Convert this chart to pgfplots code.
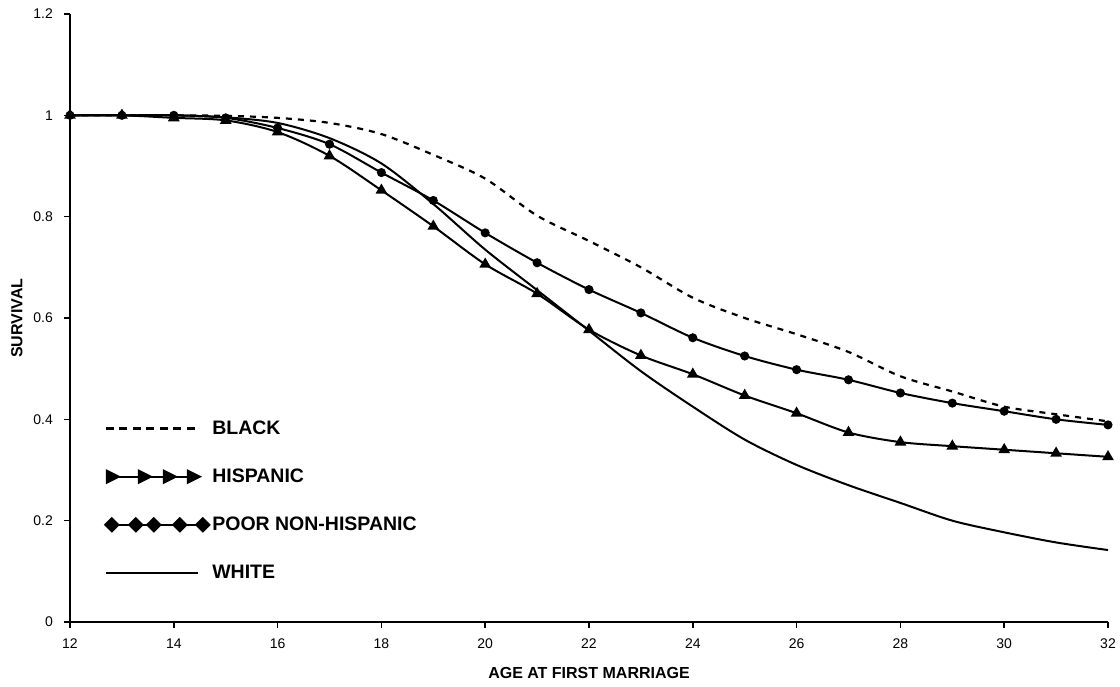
\documentclass[border=0pt]{standalone}
\usepackage{fontspec}
\setmainfont{Liberation Sans}
\usepackage{pgfplots}
\pgfplotsset{compat=1.18}
\newcommand{\tkfont}{\fontsize{14}{16}\selectfont}
\begin{document}
\begin{tikzpicture}
\useasboundingbox (-70pt,-65pt) rectangle (1050pt,622pt);
\begin{axis}[
  at={(0pt,0pt)}, anchor=south west,
  scale only axis, width=1038pt, height=608pt,
  xmin=12, xmax=32, ymin=0, ymax=1.2,
  axis x line=bottom, axis y line=left,
  axis line style={-, line width=2pt},
  xtick={12,14,16,18,20,22,24,26,28,30,32},
  ytick={0,0.2,0.4,0.6,0.8,1,1.2},
  tick align=outside, major tick length=6pt,
  tick style={line width=1.5pt, black},
  xticklabels={}, yticklabels={},
  xlabel={AGE AT FIRST MARRIAGE}, ylabel={SURVIVAL},
  label style={font=\bfseries\fontsize{16}{16}\selectfont},
  xlabel style={at={(axis description cs:0.5,-0.0839)}, anchor=center},
  ylabel style={at={(axis description cs:-0.0511,0.5)}, anchor=center},
  clip=false,
  legend style={at={(axis cs:12.6,0.405)}, anchor=north west, draw=none, fill=none,
    font=\bfseries\fontsize{19.5}{20}\selectfont, row sep=29pt},
  legend cell align=left,
]
\addplot[black, line width=2.2pt, dash pattern=on 6pt off 6pt, smooth, tension=0.5,
  legend image code/.code={\draw[line width=2.2pt, dash pattern=on 8pt off 5.5pt] (0pt,0pt) -- (92pt,0pt);}]
table {
x y
12 1
13 1
14 1
15 0.999
16 0.995
17 0.985
18 0.963
19 0.922
20 0.875
21 0.802
22 0.752
23 0.70
24 0.64
25 0.60
26 0.568
27 0.533
28 0.485
29 0.455
30 0.425
31 0.41
32 0.396
};
\addlegendentry{BLACK}
\addplot[black, line width=2pt, smooth, tension=0.5, mark=triangle*, mark size=4.8pt, mark options={solid},
  legend image code/.code={\draw[solid, line width=2pt] (0pt,0pt) -- (92pt,0pt);
    \foreach \p in {7,39,64,88}{\fill (\p pt-6pt,-6pt) -- (\p pt+6pt,0pt) -- (\p pt-6pt,6pt) -- cycle;}}]
table {
x y
12 1
13 1
14 0.995
15 0.99
16 0.967
17 0.92
18 0.852
19 0.781
20 0.706
21 0.648
22 0.577
23 0.526
24 0.489
25 0.447
26 0.412
27 0.374
28 0.355
29 0.347
30 0.34
31 0.333
32 0.326
};
\addlegendentry{HISPANIC}
\addplot[black, line width=2pt, smooth, tension=0.5, mark=*, mark size=3.5pt, mark options={solid},
  legend image code/.code={\draw[solid, line width=2pt] (0pt,0pt) -- (97pt,0pt);
    \foreach \p in {6,30,48,74,97}{\fill (\p pt-6.5pt,0pt) -- (\p pt,6.5pt) -- (\p pt+6.5pt,0pt) -- (\p pt,-6.5pt) -- cycle;}}]
table {
x y
12 1
13 1
14 1
15 0.995
16 0.975
17 0.943
18 0.887
19 0.832
20 0.768
21 0.709
22 0.656
23 0.61
24 0.561
25 0.525
26 0.498
27 0.478
28 0.452
29 0.432
30 0.416
31 0.400
32 0.389
};
\addlegendentry{POOR NON-HISPANIC}
\addplot[black, line width=2pt, smooth, tension=0.5,
  legend image code/.code={\draw[solid, line width=2.2pt] (0pt,0pt) -- (92pt,0pt);}]
table {
x y
12 1
13 1
14 1
15 0.996
16 0.985
17 0.955
18 0.905
19 0.825
20 0.735
21 0.655
22 0.575
23 0.495
24 0.425
25 0.36
26 0.31
27 0.27
28 0.235
29 0.2
30 0.177
31 0.157
32 0.142
};
\addlegendentry{WHITE}
% tick labels
\node[font=\tkfont, anchor=center, yshift=-22pt] at (axis cs:12,0) {12};
\node[font=\tkfont, anchor=center, yshift=-22pt] at (axis cs:14,0) {14};
\node[font=\tkfont, anchor=center, yshift=-22pt] at (axis cs:16,0) {16};
\node[font=\tkfont, anchor=center, yshift=-22pt] at (axis cs:18,0) {18};
\node[font=\tkfont, anchor=center, yshift=-22pt] at (axis cs:20,0) {20};
\node[font=\tkfont, anchor=center, yshift=-22pt] at (axis cs:22,0) {22};
\node[font=\tkfont, anchor=center, yshift=-22pt] at (axis cs:24,0) {24};
\node[font=\tkfont, anchor=center, yshift=-22pt] at (axis cs:26,0) {26};
\node[font=\tkfont, anchor=center, yshift=-22pt] at (axis cs:28,0) {28};
\node[font=\tkfont, anchor=center, yshift=-22pt] at (axis cs:30,0) {30};
\node[font=\tkfont, anchor=center, yshift=-22pt] at (axis cs:32,0) {32};
\node[font=\tkfont, anchor=east, inner sep=0pt, xshift=-17pt] at (axis cs:12,0) {0};
\node[font=\tkfont, anchor=east, inner sep=0pt, xshift=-17pt] at (axis cs:12,0.2) {0.2};
\node[font=\tkfont, anchor=east, inner sep=0pt, xshift=-17pt] at (axis cs:12,0.4) {0.4};
\node[font=\tkfont, anchor=east, inner sep=0pt, xshift=-17pt] at (axis cs:12,0.6) {0.6};
\node[font=\tkfont, anchor=east, inner sep=0pt, xshift=-17pt] at (axis cs:12,0.8) {0.8};
\node[font=\tkfont, anchor=east, inner sep=0pt, xshift=-17pt] at (axis cs:12,1) {1};
\node[font=\tkfont, anchor=east, inner sep=0pt, xshift=-17pt] at (axis cs:12,1.2) {1.2};
\end{axis}
\end{tikzpicture}
\end{document}
